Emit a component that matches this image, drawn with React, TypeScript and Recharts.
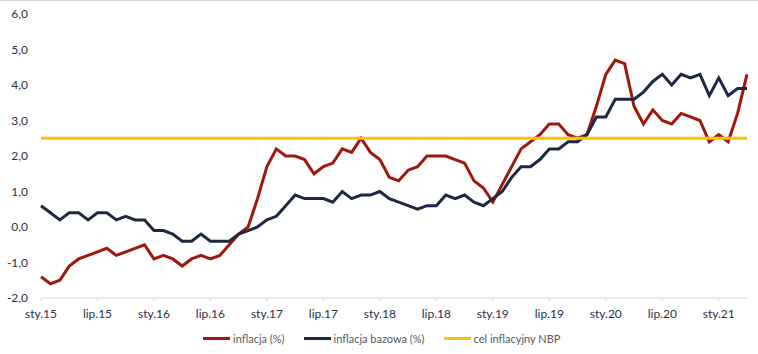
import React from "react";
import { LineChart, Line, XAxis, YAxis } from "recharts";

const categories = [
  "sty.15","lut.15","mar.15","kwi.15","maj.15","cze.15","lip.15","sie.15","wrz.15","paź.15","lis.15","gru.15",
  "sty.16","lut.16","mar.16","kwi.16","maj.16","cze.16","lip.16","sie.16","wrz.16","paź.16","lis.16","gru.16",
  "sty.17","lut.17","mar.17","kwi.17","maj.17","cze.17","lip.17","sie.17","wrz.17","paź.17","lis.17","gru.17",
  "sty.18","lut.18","mar.18","kwi.18","maj.18","cze.18","lip.18","sie.18","wrz.18","paź.18","lis.18","gru.18",
  "sty.19","lut.19","mar.19","kwi.19","maj.19","cze.19","lip.19","sie.19","wrz.19","paź.19","lis.19","gru.19",
  "sty.20","lut.20","mar.20","kwi.20","maj.20","cze.20","lip.20","sie.20","wrz.20","paź.20","lis.20","gru.20",
  "sty.21","lut.21","mar.21","kwi.21",
];

const inflacja = [
  -1.4, -1.6, -1.5, -1.1, -0.9, -0.8, -0.7, -0.6, -0.8, -0.7, -0.6, -0.5,
  -0.9, -0.8, -0.9, -1.1, -0.9, -0.8, -0.9, -0.8, -0.5, -0.2, 0.0, 0.8,
  1.7, 2.2, 2.0, 2.0, 1.9, 1.5, 1.7, 1.8, 2.2, 2.1, 2.5, 2.1,
  1.9, 1.4, 1.3, 1.6, 1.7, 2.0, 2.0, 2.0, 1.9, 1.8, 1.3, 1.1,
  0.7, 1.2, 1.7, 2.2, 2.4, 2.6, 2.9, 2.9, 2.6, 2.5, 2.6, 3.4,
  4.3, 4.7, 4.6, 3.4, 2.9, 3.3, 3.0, 2.9, 3.2, 3.1, 3.0, 2.4,
  2.6, 2.4, 3.2, 4.3,
];

const inflacjaBazowa = [
  0.6, 0.4, 0.2, 0.4, 0.4, 0.2, 0.4, 0.4, 0.2, 0.3, 0.2, 0.2,
  -0.1, -0.1, -0.2, -0.4, -0.4, -0.2, -0.4, -0.4, -0.4, -0.2, -0.1, 0.0,
  0.2, 0.3, 0.6, 0.9, 0.8, 0.8, 0.8, 0.7, 1.0, 0.8, 0.9, 0.9,
  1.0, 0.8, 0.7, 0.6, 0.5, 0.6, 0.6, 0.9, 0.8, 0.9, 0.7, 0.6,
  0.8, 1.0, 1.4, 1.7, 1.7, 1.9, 2.2, 2.2, 2.4, 2.4, 2.6, 3.1,
  3.1, 3.6, 3.6, 3.6, 3.8, 4.1, 4.3, 4.0, 4.3, 4.2, 4.3, 3.7,
  4.2, 3.7, 3.9, 3.9,
];

const celInflacyjny = 2.5;

const yTicks = [-2, -1, 0, 1, 2, 3, 4, 5, 6];

const seriesNames = ["inflacja (%)", "inflacja bazowa (%)", "cel inflacyjny NBP"];
const seriesColors = ["#A0170B", "#1E2845", "#FFC000"];

const data = categories.map((c, i) => ({
  name: c,
  inflacja: inflacja[i],
  bazowa: inflacjaBazowa[i],
  cel: celInflacyjny,
}));

const FONT = "Lato, 'Open Sans', sans-serif";

export default function App() {
  return (
    <div
      style={{
        position: "absolute",
        left: 0,
        top: 0,
        width: 758,
        height: 354,
        background: "#fff",
        borderTop: "1px solid #D9D9D9",
        boxSizing: "border-box",
        fontFamily: FONT,
      }}
    >
      <LineChart
        width={758}
        height={353}
        data={data}
        margin={{ top: 13, right: 11, bottom: 0, left: 0 }}
      >
        <XAxis
          dataKey="name"
          interval={5}
          height={56}
          axisLine={{ stroke: "#D9D9D9" }}
          tickLine={{ stroke: "#D9D9D9" }}
          tickSize={3}
          tickMargin={8}
          tick={{ fill: "#2B3045", fontSize: 12, fontFamily: FONT }}
        />
        <YAxis
          domain={[-2, 6]}
          ticks={yTicks}
          width={41}
          axisLine={false}
          tickLine={false}
          tickSize={0}
          tickMargin={13}
          tickFormatter={(v: number) => v.toFixed(1).replace(".", ",")}
          tick={{ fill: "#2B3045", fontSize: 12, fontFamily: FONT }}
        />
        <Line
          dataKey="inflacja"
          stroke={seriesColors[0]}
          strokeWidth={3}
          dot={false}
          type="linear"
          isAnimationActive={false}
        />
        <Line
          dataKey="bazowa"
          stroke={seriesColors[1]}
          strokeWidth={3}
          dot={false}
          type="linear"
          isAnimationActive={false}
        />
        <Line
          dataKey="cel"
          stroke={seriesColors[2]}
          strokeWidth={3}
          dot={false}
          type="linear"
          isAnimationActive={false}
        />
      </LineChart>
      <div
        style={{
          position: "absolute",
          left: 203,
          top: 331,
          display: "flex",
          alignItems: "center",
          gap: 19,
          fontSize: 11,
          color: "#595959",
          fontFamily: FONT,
          whiteSpace: "nowrap",
        }}
      >
        {seriesNames.map((n, i) => (
          <div key={n} style={{ display: "flex", alignItems: "center" }}>
            <span
              style={{
                display: "inline-block",
                width: 27,
                height: 3,
                background: seriesColors[i],
                marginRight: 3,
              }}
            />
            <span>{n}</span>
          </div>
        ))}
      </div>
    </div>
  );
}
